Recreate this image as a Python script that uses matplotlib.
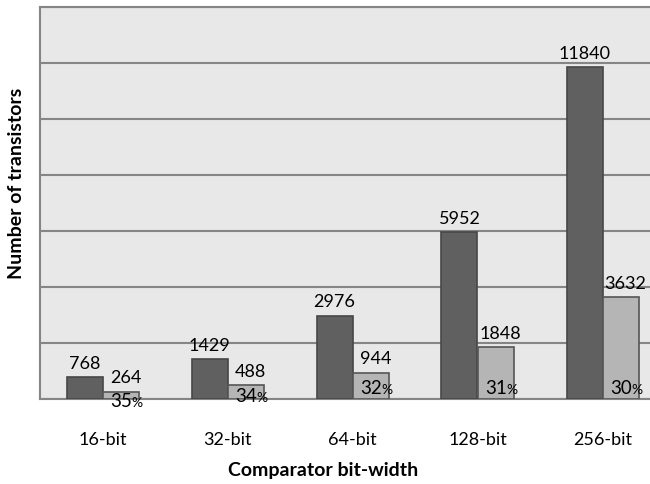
import matplotlib.pyplot as plt
import numpy as np

# data
categories = ["16-bit", "32-bit", "64-bit", "128-bit", "256-bit"]
full = [768, 1429, 2976, 5952, 11840]
reduced = [264, 488, 944, 1848, 3632]
pct = ["35", "34", "32", "31", "30"]

plt.rcParams['font.family'] = ['Lato', 'DejaVu Sans']

fig = plt.figure(figsize=(6.5, 4.85), dpi=100)
ax = fig.add_axes([40/650, 85/485, 625/650, 392/485])

x = np.arange(len(categories))
w = 0.288

ax.bar(x - w/2, full, w, color="#606060", edgecolor="#474747", linewidth=1.2, zorder=3)
ax.bar(x + w/2, reduced, w, color="#b5b5b5", edgecolor="#555555", linewidth=1.2, zorder=3)

for i in range(len(x)):
    ax.text(x[i] - w/2, full[i] + 230, str(full[i]), ha="center", va="bottom",
            fontsize=13, zorder=4)
    ax.text(x[i] + w/2 + 0.04, reduced[i] + 230, str(reduced[i]), ha="center",
            va="bottom", fontsize=13, zorder=4)
    py = min(reduced[i] * 0.5, 470) - 60
    if reduced[i] < 300:
        py -= 120
    elif reduced[i] < 500:
        py -= 60
    ax.text(x[i] + w/2 + 0.09, py, pct[i], ha="right", va="center", fontsize=13.5,
            zorder=4)
    ax.text(x[i] + w/2 + 0.09, py - 60, "%", ha="left", va="center", fontsize=10,
            zorder=4)

# axes
ax.set_xlim(-0.5, len(x) - 0.5)
ax.set_ylim(0, 14000)
ax.set_yticks(np.arange(0, 14001, 2000))
ax.set_yticklabels([])
ax.tick_params(axis="y", length=0)
ax.tick_params(axis="x", length=0, pad=23, labelsize=13)
ax.set_xticks(x)
ax.set_xticklabels(categories)

ax.set_facecolor("#e8e8e8")
ax.grid(True, axis="y", color="#858585", linewidth=1.5, zorder=0)
ax.set_axisbelow(True)
for s in ["left", "bottom", "top"]:
    ax.spines[s].set_color("#858585")
    ax.spines[s].set_linewidth(1.5)
ax.spines["right"].set_visible(False)

# label
fig.text(323/650, 1 - 471/485, "Comparator bit-width", ha="center", va="center",
         fontsize=14, fontweight="bold")
fig.text(17/650, 1 - 183/485, "Number of transistors", ha="center", va="center",
         rotation=90, fontsize=14, fontweight="bold")

# save
plt.savefig("out.png", dpi=100)
